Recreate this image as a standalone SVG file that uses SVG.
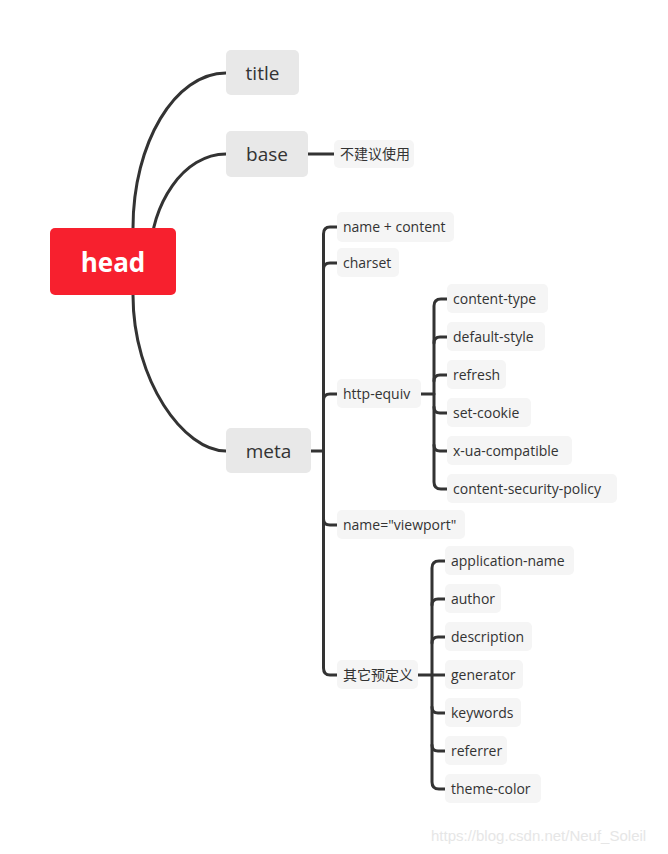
<svg xmlns="http://www.w3.org/2000/svg" width="668" height="854" viewBox="0 0 668 854">
<style>
.c{fill:none;stroke:#333;stroke-width:3;stroke-linecap:round}
.n1 rect{fill:#e8e8e8}
.n1 text{font-family:"Open Sans","Noto Sans",sans-serif;font-size:19px;fill:#333;text-anchor:middle}
.n2 rect{fill:#f5f5f5}
.n2 text{font-family:"Open Sans","Noto Sans","Noto Sans CJK SC",sans-serif;font-size:14px;fill:#333}
</style>
<rect width="668" height="854" fill="#fff"/>
<g id="connectors">
<path class="c" d="M133,228 C133,143 175,73 226,73"/>
<path class="c" d="M150,262 C150,203 184,154 226,154"/>
<path class="c" d="M133,295 C133,381 184,451 226,451"/>
<path class="c" d="M308,154 H334"/>
<path class="c" d="M311,451 H323.5"/>
<path class="c" d="M337,227 H330 Q323.5,227 323.5,234 V668 Q323.5,675 330,675 H337"/>
<path class="c" d="M323.5,269 Q323.5,263 330,263 H337"/>
<path class="c" d="M323.5,400 Q323.5,394 330,394 H337"/>
<path class="c" d="M323.5,519 Q323.5,525 330,525 H337"/>
<path class="c" d="M421,394 H434"/>
<path class="c" d="M447,299 H441 Q434,299 434,306 V482 Q434,489 441,489 H447"/>
<path class="c" d="M434,343 Q434,337 440,337 H447"/>
<path class="c" d="M434,381 Q434,375 440,375 H447"/>
<path class="c" d="M434,407 Q434,413 440,413 H447"/>
<path class="c" d="M434,445 Q434,451 440,451 H447"/>
<path class="c" d="M418,675 H432"/>
<path class="c" d="M445,561 H439 Q432,561 432,568 V782 Q432,789 439,789 H445"/>
<path class="c" d="M432,605 Q432,599 438,599 H445"/>
<path class="c" d="M432,643 Q432,637 438,637 H445"/>
<path class="c" d="M432,675 H445"/>
<path class="c" d="M432,707 Q432,713 438,713 H445"/>
<path class="c" d="M432,745 Q432,751 438,751 H445"/>
</g>
<g id="head">
<rect x="50" y="228" width="126" height="67" rx="5" fill="#f7202e"/>
<text x="113" y="272" font-family="Open Sans,Noto Sans,sans-serif" font-size="26" font-weight="bold" fill="#fff" text-anchor="middle">head</text>
</g>
<g id="title" class="n1"><rect x="226" y="50" width="73" height="45" rx="5"/><text x="262.5" y="80">title</text></g>
<g id="base" class="n1"><rect x="226" y="131" width="82" height="46" rx="5"/><text x="267" y="161">base</text></g>
<g id="meta" class="n1"><rect x="226" y="428" width="85" height="45" rx="5"/><text x="268.5" y="458">meta</text></g>
<g id="notrec" class="n2"><rect x="334" y="140" width="80" height="28" rx="5"/><text x="340" y="159" font-size="13">不建议使用</text></g>
<g id="namecontent" class="n2"><rect x="337" y="212" width="117" height="30" rx="5"/><text x="343" y="232">name + content</text></g>
<g id="charset" class="n2"><rect x="337" y="248" width="62" height="29" rx="5"/><text x="343" y="268">charset</text></g>
<g id="httpequiv" class="n2"><rect x="337" y="379" width="84" height="29" rx="5"/><text x="343" y="399">http-equiv</text></g>
<g id="viewport" class="n2"><rect x="337" y="510" width="128" height="29" rx="5"/><text x="343" y="530">name="viewport"</text></g>
<g id="other" class="n2"><rect x="337" y="660" width="81" height="29" rx="5"/><text x="343" y="680" font-size="13">其它预定义</text></g>
<g id="contenttype" class="n2"><rect x="447" y="284" width="101" height="29" rx="5"/><text x="453" y="304">content-type</text></g>
<g id="defaultstyle" class="n2"><rect x="447" y="322" width="98" height="29" rx="5"/><text x="453" y="342">default-style</text></g>
<g id="refresh" class="n2"><rect x="447" y="360" width="59" height="29" rx="5"/><text x="453" y="380">refresh</text></g>
<g id="setcookie" class="n2"><rect x="447" y="398" width="84" height="29" rx="5"/><text x="453" y="418">set-cookie</text></g>
<g id="xua" class="n2"><rect x="447" y="436" width="125" height="29" rx="5"/><text x="453" y="456">x-ua-compatible</text></g>
<g id="csp" class="n2"><rect x="447" y="474" width="170" height="29" rx="5"/><text x="453" y="494">content-security-policy</text></g>
<g id="appname" class="n2"><rect x="445" y="546" width="129" height="29" rx="5"/><text x="451" y="566">application-name</text></g>
<g id="author" class="n2"><rect x="445" y="584" width="56" height="29" rx="5"/><text x="451" y="604">author</text></g>
<g id="description" class="n2"><rect x="445" y="622" width="87" height="29" rx="5"/><text x="451" y="642">description</text></g>
<g id="generator" class="n2"><rect x="445" y="660" width="78" height="29" rx="5"/><text x="451" y="680">generator</text></g>
<g id="keywords" class="n2"><rect x="445" y="698" width="76" height="29" rx="5"/><text x="451" y="718">keywords</text></g>
<g id="referrer" class="n2"><rect x="445" y="736" width="62" height="29" rx="5"/><text x="451" y="756">referrer</text></g>
<g id="themecolor" class="n2"><rect x="445" y="774" width="96" height="29" rx="5"/><text x="451" y="794">theme-color</text></g>
<text x="431" y="841" font-family="Liberation Sans,Arial,sans-serif" font-size="15" fill="#e6e6e6">https://blog.csdn.net/Neuf_Soleil</text>
</svg>
